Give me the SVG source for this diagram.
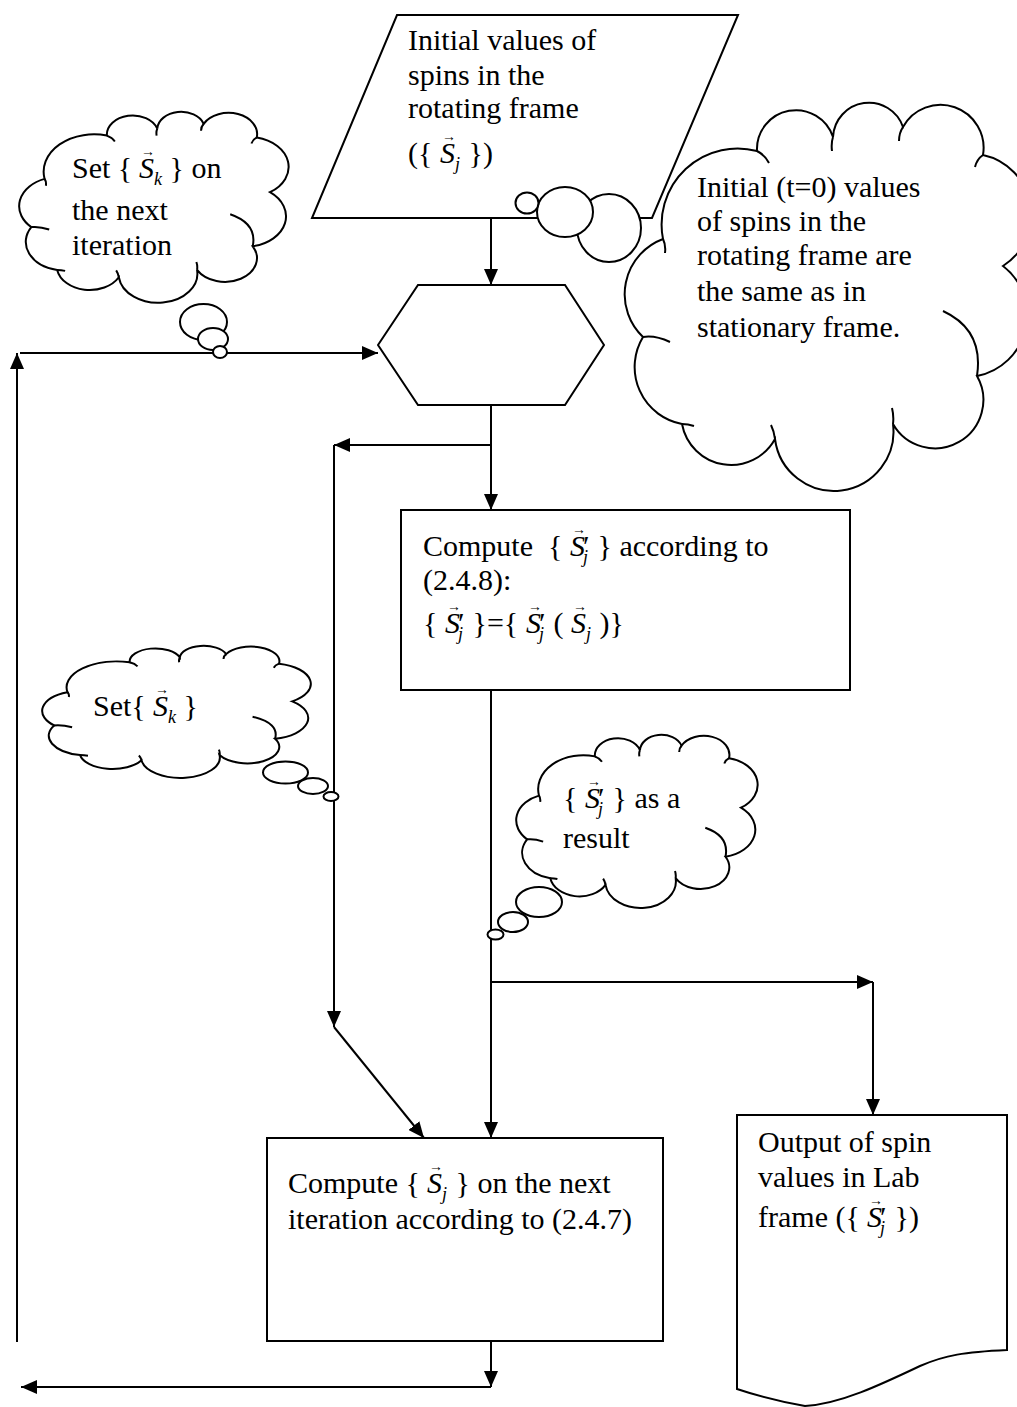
<svg xmlns="http://www.w3.org/2000/svg" xmlns:xlink="http://www.w3.org/1999/xlink" width="1017" height="1407" viewBox="0 0 1017 1407">
<style>
.t{font-family:"Liberation Serif","Times New Roman",serif;font-size:30px;fill:#000}
.m{font-style:italic}
.sb{font-style:italic;font-size:18px}
.av{font-family:"Liberation Serif","DejaVu Serif",serif;font-size:14px;font-style:normal;text-anchor:middle}
.ln{stroke:#000;stroke-width:2;fill:none}
.shape{fill:#fff;stroke:#000;stroke-width:2}
.cl{fill:#fff;stroke:#000;stroke-width:2;vector-effect:non-scaling-stroke}
.tk{fill:none;stroke:#000;stroke-width:2;vector-effect:non-scaling-stroke}
</style>
<defs>
<marker id="ah" markerUnits="userSpaceOnUse" markerWidth="16" markerHeight="14" refX="16" refY="7" orient="auto">
<path d="M0,0 L16,7 L0,14 Z" fill="#000"/>
</marker>
<g id="cloud">
<path class="cl" d="M36,140 A76,76 0 0 1 130,52 A39,39 0 0 1 206,38 A36,36 0 0 1 276,28 A43,43 0 0 1 356,56 A61,61 0 0 1 376,167 A62,62 0 0 1 350,277 A48,48 0 0 1 266,325 A59,59 0 0 1 148,340 A50,50 0 0 1 55,325 A58,58 0 0 1 16,238 A59,59 0 0 1 36,140 Z"/>
<path class="tk" d="M36,140 q3,6 2,14 M130,52 q8,4 12,12 M206,38 q-2,6 -1,14 M276,28 q-4,6 -4,14 M356,56 q-6,4 -8,12 M316,212 Q357,231 350,277 M266,325 q1,-8 -1,-16 M148,340 q-1,-8 -4,-14 M55,325 q6,0 12,2 M16,238 q12,-2 27,5"/>
</g>
</defs>
<rect width="1017" height="1407" fill="#fff"/>

<g id="input">
<polygon class="shape" points="397,15 738,15 652,218 312,218"/>
<text class="t" x="408" y="50">Initial values of</text>
<text class="t" x="408" y="85">spins in the</text>
<text class="t" x="408" y="118">rotating frame</text>
<text class="t"><tspan x="408" y="163">({ </tspan><tspan class="m" x="440" y="163">S</tspan><tspan class="sb" x="455" y="170">j</tspan><tspan x="461" y="163"> })</tspan><tspan class="av" x="449" y="141">→</tspan></text>
</g>

<g id="prep">
<polygon class="shape" points="378,345 418,285 565,285 604,345 565,405 418,405"/>
</g>

<g id="compute1">
<rect class="shape" x="401" y="510" width="449" height="180"/>
<text class="t"><tspan x="423" y="556">Compute&#160; { </tspan><tspan class="m" x="570" y="556">S</tspan><tspan x="583" y="556">′</tspan><tspan class="sb" x="583" y="563">j</tspan><tspan x="590" y="556"> } according to</tspan><tspan class="av" x="579" y="534">→</tspan></text>
<text class="t" x="423" y="590">(2.4.8):</text>
<text class="t"><tspan x="423" y="633">{ </tspan><tspan class="m" x="445" y="633">S</tspan><tspan x="458" y="633">′</tspan><tspan class="sb" x="458" y="640">j</tspan><tspan x="465" y="633"> }={ </tspan><tspan class="m" x="526" y="633">S</tspan><tspan x="539" y="633">′</tspan><tspan class="sb" x="539" y="640">j</tspan><tspan x="546" y="633"> ( </tspan><tspan class="m" x="571" y="633">S</tspan><tspan class="sb" x="586" y="640">j</tspan><tspan x="592" y="633"> )}</tspan><tspan class="av" x="454" y="611">→</tspan><tspan class="av" x="535" y="611">→</tspan><tspan class="av" x="580" y="611">→</tspan></text>
</g>

<g id="compute2">
<rect class="shape" x="267" y="1138" width="396" height="203"/>
<text class="t"><tspan x="288" y="1193">Compute { </tspan><tspan class="m" x="427" y="1193">S</tspan><tspan class="sb" x="442" y="1200">j</tspan><tspan x="448" y="1193"> } on the next</tspan><tspan class="av" x="436" y="1171">→</tspan></text>
<text class="t" x="288" y="1229">iteration according to (2.4.7)</text>
</g>

<g id="output">
<path class="shape" d="M737,1115 H1007 V1350 C965,1352 945,1355 920,1366 C880,1385 840,1404 805,1406 Q770,1400 737,1389 Z"/>
<text class="t" x="758" y="1152">Output of spin</text>
<text class="t" x="758" y="1187">values in Lab</text>
<text class="t"><tspan x="758" y="1227">frame ({ </tspan><tspan class="m" x="867" y="1227">S</tspan><tspan x="880" y="1227">′</tspan><tspan class="sb" x="880" y="1234">j</tspan><tspan x="887" y="1227"> })</tspan><tspan class="av" x="876" y="1205">→</tspan></text>
</g>

<g id="connectors">
<line class="ln" x1="491" y1="218" x2="491" y2="285" marker-end="url(#ah)"/>
<line class="ln" x1="491" y1="405" x2="491" y2="510" marker-end="url(#ah)"/>
<line class="ln" x1="491" y1="445" x2="334" y2="445" marker-end="url(#ah)"/>
<line class="ln" x1="334" y1="445" x2="334" y2="1027" marker-end="url(#ah)"/>
<line class="ln" x1="334" y1="1027" x2="424" y2="1138" marker-end="url(#ah)"/>
<line class="ln" x1="491" y1="690" x2="491" y2="1138" marker-end="url(#ah)"/>
<line class="ln" x1="491" y1="982" x2="873" y2="982" marker-end="url(#ah)"/>
<line class="ln" x1="873" y1="982" x2="873" y2="1115" marker-end="url(#ah)"/>
<line class="ln" x1="491" y1="1341" x2="491" y2="1387" marker-end="url(#ah)"/>
<line class="ln" x1="491" y1="1387" x2="21" y2="1387" marker-end="url(#ah)"/>
<line class="ln" x1="17" y1="1342" x2="17" y2="353" marker-end="url(#ah)"/>
<line class="ln" x1="20" y1="353" x2="378" y2="353" marker-end="url(#ah)"/>
</g>

<g id="note-initial">
<use xlink:href="#cloud" transform="translate(627,99)"/>
<ellipse class="shape" cx="609" cy="228" rx="32" ry="34"/>
<ellipse class="shape" cx="565" cy="212" rx="28" ry="25"/>
<ellipse class="shape" cx="527" cy="203" rx="11.5" ry="10.5"/>
<text class="t" x="697" y="197">Initial (t=0) values</text>
<text class="t" x="697" y="231">of spins in the</text>
<text class="t" x="697" y="265">rotating frame are</text>
<text class="t" x="697" y="301">the same as in</text>
<text class="t" x="697" y="337">stationary frame.</text>
</g>

<g id="note-next">
<use xlink:href="#cloud" transform="translate(20.7,110) scale(0.663,0.492)"/>
<ellipse class="shape" cx="203.5" cy="322" rx="23.5" ry="18"/>
<ellipse class="shape" cx="213" cy="339" rx="15" ry="11"/>
<ellipse class="shape" cx="220" cy="352" rx="7" ry="6"/>
<text class="t"><tspan x="72" y="178">Set { </tspan><tspan class="m" x="139" y="178">S</tspan><tspan class="sb" x="154" y="185">k</tspan><tspan x="162" y="178"> } on</tspan><tspan class="av" x="148" y="156">→</tspan></text>
<text class="t" x="72" y="220">the next</text>
<text class="t" x="72" y="255">iteration</text>
</g>

<g id="note-set">
<use xlink:href="#cloud" transform="translate(43.7,644.6) scale(0.661,0.340)"/>
<ellipse class="shape" cx="285.5" cy="772.5" rx="22.5" ry="11"/>
<ellipse class="shape" cx="313" cy="786" rx="15" ry="8"/>
<ellipse class="shape" cx="331" cy="796.5" rx="7.5" ry="4.5"/>
<text class="t"><tspan x="93" y="716">Set{ </tspan><tspan class="m" x="153" y="716">S</tspan><tspan class="sb" x="168" y="723">k</tspan><tspan x="176" y="716"> }</tspan><tspan class="av" x="162" y="694">→</tspan></text>
</g>

<g id="note-result">
<use xlink:href="#cloud" transform="translate(517.6,733.2) scale(0.594,0.446)"/>
<ellipse class="shape" cx="539" cy="902" rx="23" ry="15"/>
<ellipse class="shape" cx="513" cy="922" rx="15" ry="10"/>
<ellipse class="shape" cx="495.5" cy="934.5" rx="8" ry="5"/>
<text class="t"><tspan x="563" y="808">{ </tspan><tspan class="m" x="585" y="808">S</tspan><tspan x="598" y="808">′</tspan><tspan class="sb" x="598" y="815">j</tspan><tspan x="605" y="808"> } as a</tspan><tspan class="av" x="594" y="786">→</tspan></text>
<text class="t" x="563" y="848">result</text>
</g>
</svg>
